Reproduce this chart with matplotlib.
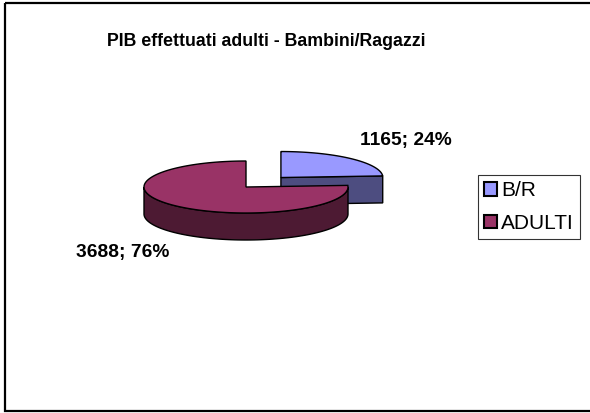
import numpy as np
import matplotlib
matplotlib.use("Agg")
import matplotlib.pyplot as plt
from matplotlib.patches import Polygon, Rectangle, Patch

plt.rcParams['font.family'] = ['Liberation Sans', 'DejaVu Sans']

# data
labels = ['B/R', 'ADULTI']
values = [1165, 3688]
title = 'PIB effettuati adulti - Bambini/Ragazzi'

top_colors = ['#9999FF', '#993366']
side_colors = ['#4D4D80', '#4D1A33']
explode = [0.5, 0.0]
label_pos = [(406, 141), (123, 253)]  # pixel positions of data labels

# pie geometry (pixels)
cx, cy = 246, 187
a, b = 102, 26
depth = 27

fig = plt.figure(figsize=(5.9, 4.13), dpi=100)
ax = fig.add_axes([0, 0, 1, 1])
ax.set_xlim(0, 590)
ax.set_ylim(413, 0)
ax.axis('off')

# outer chart frame
ax.add_patch(Rectangle((5, 3), 600, 408, fill=False, ec='black', lw=1.6, zorder=1))

total = float(sum(values))
cum = np.concatenate([[0], np.cumsum(values)]) / total


def pt(x0, y0, t, dz=0):
    t = np.radians(t)
    return np.column_stack([x0 + a * np.cos(t), y0 - b * np.sin(t) + dz])


slices = []
for i, v in enumerate(values):
    t1 = 90 - 360 * cum[i]
    t2 = 90 - 360 * cum[i + 1]
    mid = np.radians((t1 + t2) / 2)
    x0 = cx + explode[i] * a * np.cos(mid)
    y0 = cy - explode[i] * b * np.sin(mid)
    slices.append((i, t1, t2, x0, y0))

# draw B/R first (behind), adult after
for i, t1, t2, x0, y0 in slices:
    z = 2 + i * 3
    # radial face at t2 (front facing cut)
    if np.sin(np.radians(t2)) >= 0 and t2 > -90:
        e = pt(x0, y0, np.array([t2]))[0]
        face = [(x0, y0), (e[0], e[1]), (e[0], e[1] + depth), (x0, y0 + depth)]
        ax.add_patch(Polygon(face, closed=True, fc=side_colors[i], ec='black', lw=1, zorder=z))
    # outer front arc
    lo = max(min(t1, t2), -180)
    hi = min(max(t1, t2), 0)
    if hi > lo:
        ts = np.linspace(lo, hi, 100)
        top = pt(x0, y0, ts)
        bot = pt(x0, y0, ts[::-1], depth)
        ax.add_patch(Polygon(np.vstack([top, bot]), closed=True, fc=side_colors[i],
                             ec='black', lw=1, zorder=z + 1))
    # top face
    ts = np.linspace(t1, t2, 200)
    poly = np.vstack([[x0, y0], pt(x0, y0, ts)])
    ax.add_patch(Polygon(poly, closed=True, fc=top_colors[i], ec='black', lw=1, zorder=z + 2))

for i, v in enumerate(values):
    pct = int(round(100 * v / total))
    ax.text(label_pos[i][0], label_pos[i][1], f'{v}; {pct}%', ha='center', va='center',
            fontsize=13.8, fontweight='bold', zorder=20)

ax.text(266, 42, title, ha='center', va='center', fontsize=12.8, fontweight='bold')

handles = [Patch(fc=top_colors[i], ec='black', lw=1.5, label=labels[i]) for i in range(len(labels))]
leg = ax.legend(handles=handles, loc='center left', bbox_to_anchor=(478 / 590, 1 - 207 / 413),
                frameon=True, fancybox=False, edgecolor='black', fontsize=15,
                handlelength=0.6, handleheight=0.6, handletextpad=0.2,
                borderpad=0.3, labelspacing=0.65, borderaxespad=0)
leg.get_frame().set_linewidth(0.8)

fig.savefig('out.png', dpi=100)
